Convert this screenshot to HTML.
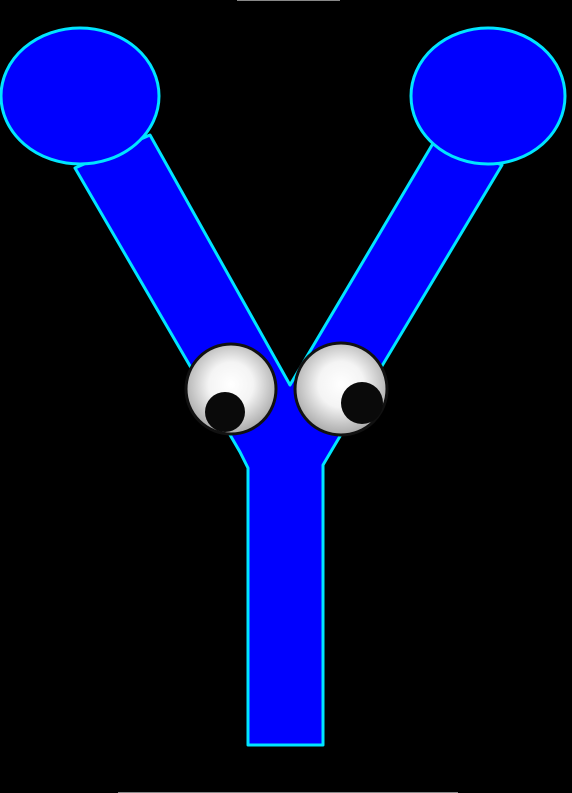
<!DOCTYPE html>
<html><head><meta charset="utf-8"><style>html,body{margin:0;padding:0;background:#000;width:572px;height:793px;overflow:hidden}</style></head>
<body>
<svg width="572" height="793" viewBox="0 0 572 793">
<defs>
<radialGradient id="eg" cx="0.5" cy="0.45" r="0.55">
<stop offset="0" stop-color="#ffffff"/><stop offset="0.45" stop-color="#f4f4f4"/><stop offset="1" stop-color="#a8a8a8"/>
</radialGradient>
</defs>
<rect x="0" y="0" width="572" height="793" fill="#000"/>
<line x1="237" y1="0.5" x2="340" y2="0.5" stroke="#888"/>
<line x1="118" y1="792.5" x2="458" y2="792.5" stroke="#888"/>
<polygon points="75,168 240,452 248,468 248,745 323,745 323,465 333,448 502,165 435,140 290,385 150,135" fill="#0000ff" stroke="#00e5ff" stroke-width="3" stroke-linejoin="round"/>
<ellipse cx="80" cy="96" rx="79" ry="68" fill="#0000ff" stroke="#00e5ff" stroke-width="3"/>
<ellipse cx="488" cy="96" rx="77" ry="68" fill="#0000ff" stroke="#00e5ff" stroke-width="3"/>
<g>
<circle cx="231" cy="389" r="45" fill="url(#eg)" stroke="#111" stroke-width="3"/>
<circle cx="225" cy="412" r="20" fill="#0a0a0a"/>
</g>
<g>
<circle cx="341" cy="389" r="46" fill="url(#eg)" stroke="#111" stroke-width="3"/>
<circle cx="362" cy="403" r="21" fill="#0a0a0a"/>
</g>
</svg>
</body></html>
